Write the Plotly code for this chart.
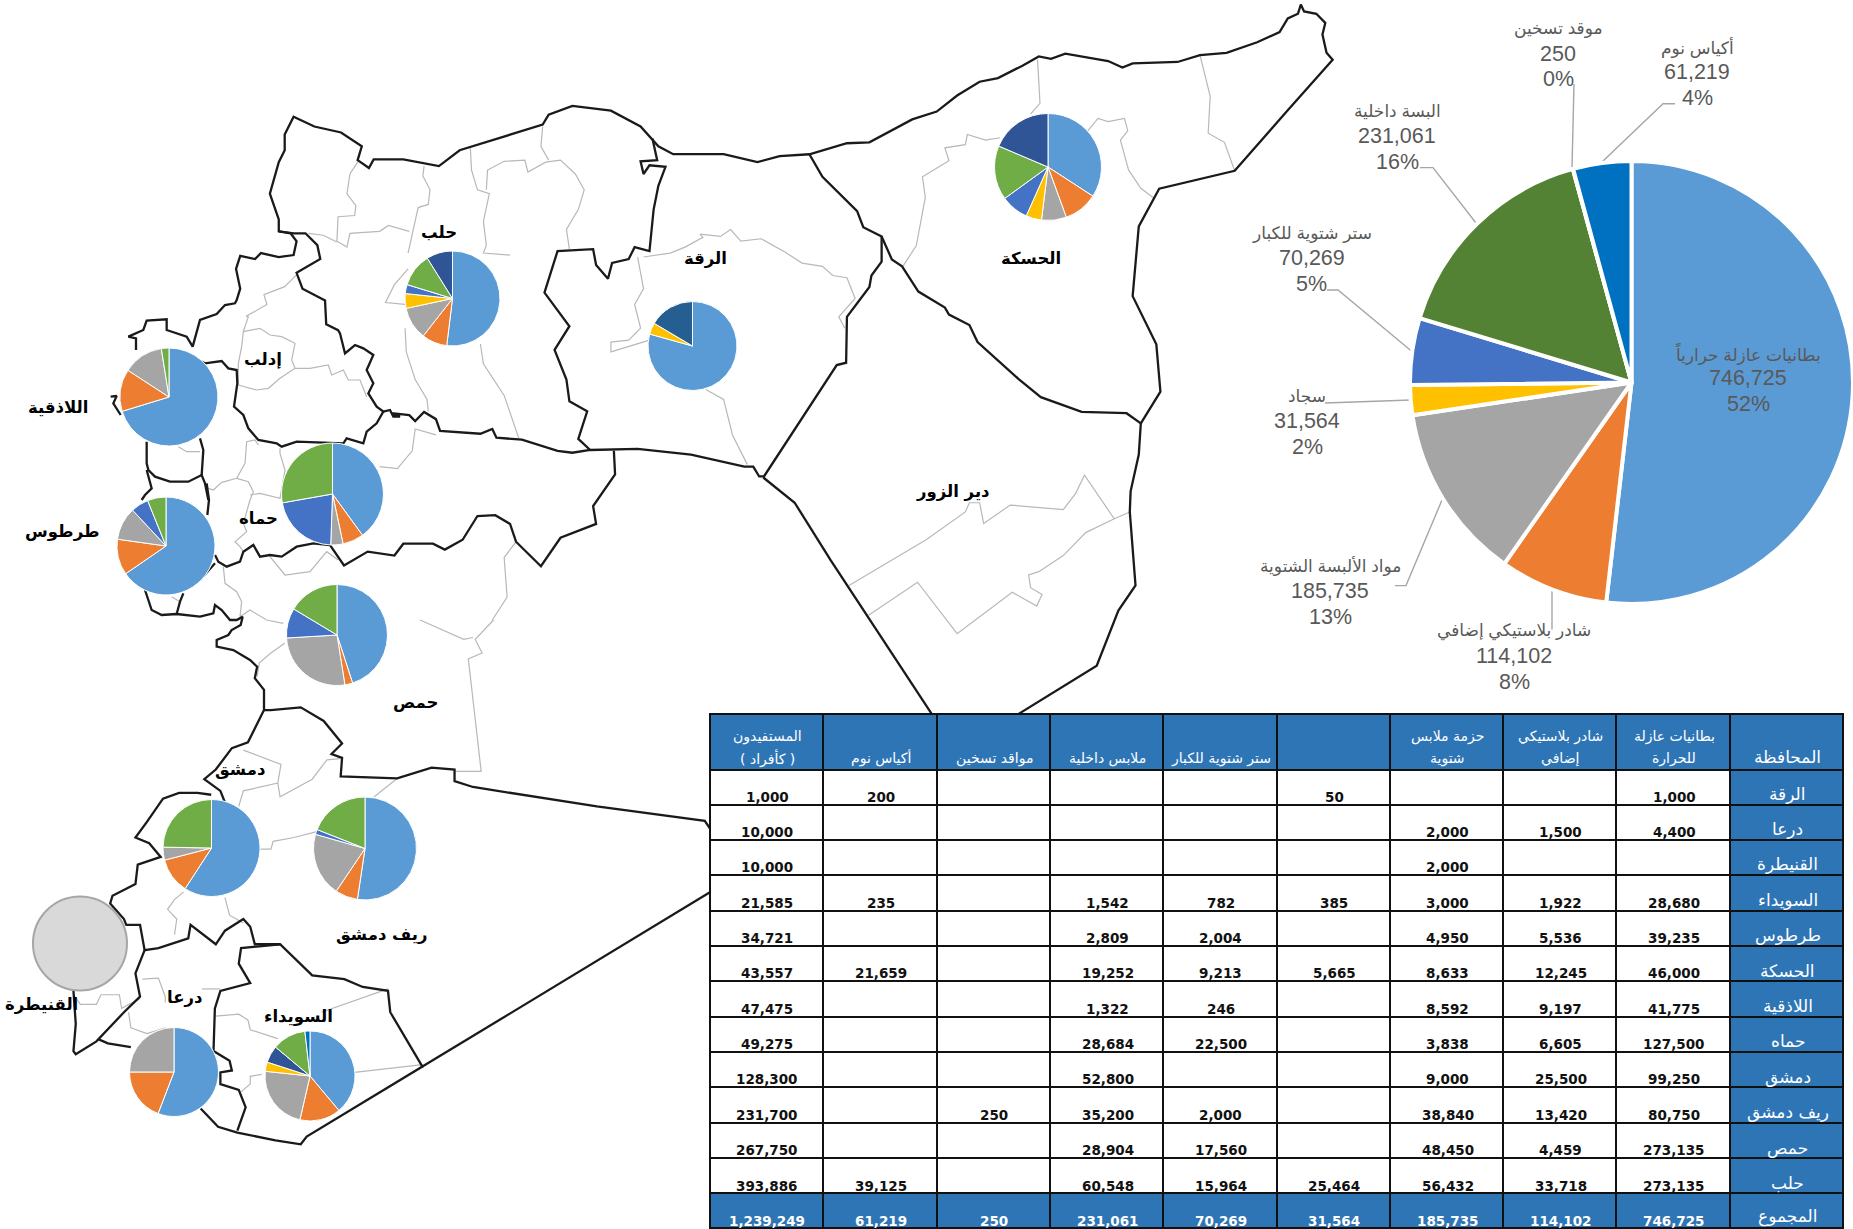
import plotly.graph_objects as go

W, H = 1853, 1229

# ---------- national totals ----------
item_names = ["بطانيات عازلة حرارياً", "شادر بلاستيكي إضافي", "مواد الألبسة الشتوية", "سجاد",
              "ستر شتوية للكبار", "البسة داخلية", "موقد تسخين", "أكياس نوم"]
item_totals = [746725, 114102, 185735, 31564, 70269, 231061, 250, 61219]
item_colors = ["#5B9BD5", "#ED7D31", "#A5A5A5", "#FFC000", "#4472C4", "#548235", "#264478", "#0070C0"]

# ---------- table ----------
provinces = ["الرقة", "درعا", "القنيطرة", "السويداء", "طرطوس", "الحسكة", "اللاذقية", "حماه", "دمشق",
             "ريف دمشق", "حمص", "حلب", "المجموع"]
col_blankets = ["1,000", "4,400", "", "28,680", "39,235", "46,000", "41,775", "127,500", "99,250", "80,750", "273,135", "273,135", "746,725"]
col_sheets = ["", "1,500", "", "1,922", "5,536", "12,245", "9,197", "6,605", "25,500", "13,420", "4,459", "33,718", "114,102"]
col_kits = ["", "2,000", "2,000", "3,000", "4,950", "8,633", "8,592", "3,838", "9,000", "38,840", "48,450", "56,432", "185,735"]
col_carpets = ["50", "", "", "385", "", "5,665", "", "", "", "", "", "25,464", "31,564"]
col_jackets = ["", "", "", "782", "2,004", "9,213", "246", "22,500", "", "2,000", "17,560", "15,964", "70,269"]
col_underwear = ["", "", "", "1,542", "2,809", "19,252", "1,322", "28,684", "52,800", "35,200", "28,904", "60,548", "231,061"]
col_heaters = ["", "", "", "", "", "", "", "", "", "250", "", "", "250"]
col_bags = ["200", "", "", "235", "", "21,659", "", "", "", "", "", "39,125", "61,219"]
col_people = ["1,000", "10,000", "10,000", "21,585", "34,721", "43,557", "47,475", "49,275", "128,300", "231,700", "267,750", "393,886", "1,239,249"]
table_head = [["المستفيدون", "( كأفراد )"], ["أكياس نوم"], ["مواقد تسخين"], ["ملابس داخلية"], ["ستر شتوية للكبار"], [],
              ["حزمة ملابس", "شتوية"], ["شادر بلاستيكي", "إضافي"], ["بطانيات عازلة", "للحرارة"], ["المحافظة"]]

# ---------- provincial pies: slice shares (degrees) ----------
pie_halab = [187, 31, 40, 18, 11, 41, 32]
pie_raqqa = [285.6, 15, 59.4]
pie_hasakah = [123, 37, 27, 17, 30, 59, 67]
pie_lattakia = [253, 50, 48, 9]
pie_hama = [144, 24, 14, 78, 100]
pie_tartus = [235.5, 42.5, 39, 21, 22]
pie_homs = [162, 9, 95.6, 34.4, 59]
pie_damascus = [213, 42.5, 15.5, 89]
pie_rif = [188.5, 25.5, 72, 5.6, 68.4]
pie_quneitra = [1]
pie_daraa = [201, 69, 90]
pie_sweida = [140, 53, 83, 12, 22, 43.5, 6.5]

BLUE, ORANGE, GRAY, YEL, MID, GREEN, DARK, DEEP = "#5B9BD5", "#ED7D31", "#A5A5A5", "#FFC000", "#4472C4", "#70AD47", "#2F5597", "#0070C0"
mini_pies = [
    (pie_halab, [BLUE, ORANGE, GRAY, YEL, MID, GREEN, DARK], 452.5, 298.5, 47.5),
    (pie_raqqa, [BLUE, YEL, "#255E91"], 692.5, 346, 44.5),
    (pie_hasakah, [BLUE, ORANGE, GRAY, YEL, MID, GREEN, DARK], 1048, 167, 53.5),
    (pie_lattakia, [BLUE, ORANGE, GRAY, GREEN], 169, 397, 49),
    (pie_hama, [BLUE, ORANGE, GRAY, MID, GREEN], 332.5, 494, 51),
    (pie_tartus, [BLUE, ORANGE, GRAY, MID, GREEN], 166, 546, 49),
    (pie_homs, [BLUE, ORANGE, GRAY, MID, GREEN], 337, 635, 50.5),
    (pie_damascus, [BLUE, ORANGE, GRAY, GREEN], 211.5, 848, 48.5),
    (pie_rif, [BLUE, ORANGE, GRAY, MID, GREEN], 365, 848.5, 51.5),
    (pie_daraa, [BLUE, ORANGE, GRAY], 174, 1072, 44.5),
    (pie_sweida, [BLUE, ORANGE, GRAY, YEL, DARK, GREEN, DEEP], 310, 1076, 45),
]

# ---------- map labels ----------
region_names = ["حلب", "الرقة", "الحسكة", "دير الزور", "إدلب", "اللاذقية", "طرطوس", "حماه", "حمص", "دمشق",
                "ريف دمشق", "القنيطرة", "درعا", "السويداء"]
region_x = [439, 705, 1030.6, 953, 263, 57.5, 62, 258, 415.5, 240, 381, 41, 184.6, 298.4]
region_y = [232, 259, 258, 492, 359, 407, 532, 518, 702, 769.5, 934.6, 1004.5, 997, 1017]

# ---------- outline tracings, in sets of map units ----------
def a(p): return [(x / 1.686, y / 2.529) for x, y in p]
def b(p): return [(x / 2.178, 620 + y / 2.575) for x, y in p]
def c(p): return [(700 + x / 2.45, y / 2.178) for x, y in p]
def d(p): return [(100 + x / 3, 420 + y / 3) for x, y in p]
def e(p): return [(100 + x / 3, 300 + y / 3) for x, y in p]

borders = [
    e([(32,290),(50,288),(40,310),(62,345)]),
    e([(108,150),(108,115),(85,110),(130,90),(140,62),(200,58),(200,90),(260,110),(278,140),(290,100),(300,60),(350,42),(375,15),(405,10),(410,0)])
    + a([(405,730),(398,680),(405,647),(430,655),(440,640),(470,650),(495,645),(500,610),(490,590),(470,585),(470,555),(455,490),(470,410),(480,380),(480,340),(495,295),(530,320),(575,335),(610,370),(603,405),(622,425),(630,403),(680,403),(740,420),(775,380),(835,352),(915,315),(925,290),(965,268),(1030,280),(1080,320),(1110,370),(1135,390),(1220,390),(1277,410)])
    + c([(195,340),(268,336),(360,312),(415,310),(520,260),(580,243),(630,208),(685,178),(730,170),(790,143),(830,123),(860,128),(895,117),(1000,133),(1035,147),(1060,138),(1170,135),(1225,120),(1290,115),(1365,92),(1420,70),(1440,40),(1465,30),(1472,10),(1480,25),(1510,30),(1532,50),(1525,75),(1535,115),(1550,130),(1440,240),(1310,372),(1125,411),(1075,493),(1060,645),(1118,750),(1128,853),(1080,922),(1075,990),(1055,1070),(1053,1115),(1067,1275),(1025,1330),(972,1450),(775,1558)]),
    c([(155,1040),(232,1095),(320,1220),(570,1558)]),
    a([(470,585),(495,590),(515,590),(535,620),(540,655),(500,690),(510,730),(548,760),(550,820),(570,835)])
    + e([(720,100),(735,160),(765,135),(790,145),(820,165),(800,210),(820,250),(805,280),(830,320),(850,335),(830,370),(800,395),(790,430),(740,415),(730,430),(665,428),(590,425),(545,440),(530,430),(475,420),(445,385),(430,345),(402,320),(412,250),(410,210),(385,205),(365,183),(315,190),(275,170)]),
    e([(850,335),(870,330),(880,350),(900,350)])
    + a([(660,1045),(690,1050),(700,1065),(715,1042),(735,1060),(742,1090),(810,1097),(830,1085),(837,1107),(880,1112),(940,1140),(965,1145),(995,1138),(1075,1135),(1165,1150),(1255,1180),(1270,1180),(1280,1205),(1287,1205)]),
    a([(995,1138),(975,1110),(990,1040),(960,1015),(955,960),(935,885),(960,825),(918,740),(940,635),(1000,630),(1005,670),(1025,705),(1032,665),(1060,655),(1070,625),(1095,635),(1102,530),(1110,470),(1122,422),(1095,418),(1085,440),(1080,408),(1108,405),(1100,350)]),
    c([(268,336),(300,385),(385,460),(400,495),(445,515),(445,570),(420,600),(415,625),(360,690),(358,790),(335,795),(155,1040)]),
    c([(445,515),(470,565),(495,580),(535,635),(600,670),(610,685),(660,708),(680,745),(780,825),(835,865),(935,897),(1045,900),(1080,922)]),
    a([(1035,1140),(1037,1200),(1000,1280),(1005,1325),(945,1360),(912,1432),(870,1370),(860,1325),(835,1303),(805,1305),(780,1365),(750,1390),(730,1375),(680,1375),(665,1405),(620,1395),(580,1430),(557,1378)])
    + d([(690,375),(640,370),(590,380),(545,410),(510,405),(480,410),(460,375),(430,395),(420,425),(380,440),(355,425),(345,405)]),
    d([(345,430),(300,480)]),
    e([(140,425),(140,490),(145,510),(165,530),(210,545),(265,545),(305,525),(315,550),(325,600)]),
    e([(300,415),(310,450),(305,525)]),
    d([(320,190),(327,240),(322,285)]),
    d([(140,150),(155,205),(135,225),(125,240)]),
    d([(135,510),(155,570),(185,585),(230,582),(300,590),(340,580),(345,555),(365,570),(390,600),(410,600),(428,590),(422,615),(395,630),(385,645),(350,660),(350,680),(400,690),(450,720)])
    + b([(560,120),(555,150),(575,180),(575,232),(540,315),(505,330),(470,385),(445,410),(480,440),(490,470)]),
    d([(230,582),(240,545),(250,520)]),
    b([(460,450),(430,445),(390,445),(355,460),(320,520),(295,560),(325,575),(350,610),(300,630),(295,680),(245,710),(240,730),(270,770),(275,785),(305,785),(315,850),(345,845),(410,820),(415,785),(470,835),(490,800),(530,770),(545,790),(555,835),(610,835),(680,915),(750,925),(790,945),(845,955),(850,1010),(920,1150),(668,1330),(655,1350),(600,1340),(517,1320),(475,1305),(437,1258)]),
    b([(920,1150),(1548,700)]),
    b([(1548,540),(1535,517),(1300,480),(1030,430),(990,415),(990,385),(940,380),(865,408),(742,403),(745,355),(722,345),(745,318),(705,260),(655,225),(590,232),(575,232)]),
    b([(610,835),(525,845),(520,885),(545,935),(480,955),(468,1000),(465,1110),(500,1135),(505,1160),(480,1165),(480,1195),(520,1210),(535,1255),(517,1315)]),
    b([(315,850),(295,910),(305,970),(270,1010),(210,1085),(165,1118),(160,1110),(165,1040),(160,955)]),
    b([(215,1080),(235,1090),(285,1100)]),
]

inner_lines = [
    a([(793,375),(795,430),(805,480),(825,490),(815,560),(820,620),(815,640),(860,645)]),
    a([(820,480),(822,430),(850,408),(885,405),(890,435),(920,410),(945,405),(970,440),(985,480),(975,530),(955,580),(960,630)]),
    a([(915,320),(912,370),(925,405)]),
    a([(715,420),(713,445),(725,480),(722,517),(705,525),(688,640)]),
    a([(605,405),(590,440),(585,490),(600,520),(598,545),(570,548),(568,610),(585,625),(590,590),(640,585),(655,570),(690,585)]),
    a([(520,590),(545,595),(568,612)]),
    a([(500,695),(480,725),(445,745),(450,770),(415,800)]) + e([(445,50),(430,95),(425,140),(415,190),(415,255)]),
    e([(430,95),(480,85),(510,105),(545,110),(585,130),(575,180),(585,205),(540,235),(505,265),(470,270),(415,255)]),
    e([(585,205),(630,205),(685,195),(695,225),(730,210),(745,240),(780,240),(800,290)]),
    a([(683,770),(650,765),(665,720),(688,680)]),
    a([(683,830),(685,890),(700,960),(720,1010),(722,1040)]),
    a([(810,870),(815,920),(850,1000),(875,1110)]),
    a([(1075,650),(1085,730),(1070,770),(1080,830),(1060,860),(1030,865),(1030,890),(1095,860)]),
    a([(1085,650),(1130,640),(1155,625),(1185,600)])
    + c([(0,510),(50,515),(75,500),(100,525),(150,520),(210,550),(250,573),(300,580),(325,600),(360,605),(380,650),(340,690),(355,715)]),
    a([(1190,985),(1220,1010),(1235,1100),(1260,1175)]),
    c([(827,130),(833,225),(810,248)]),
    c([(950,285),(975,258),(1000,265),(1040,258),(1048,285),(1030,305),(1050,370),(1080,410),(1110,430)]),
    c([(735,300),(700,305),(655,293),(650,315),(600,322),(610,350),(545,385),(552,430),(530,535),(497,580)]),
    c([(1225,120),(1250,210),(1245,290),(1285,310),(1310,372)]),
    c([(365,1275),(555,1175),(650,1115),(660,1095),(685,1095),(695,1140),(760,1100),(890,1110),(920,1075),(942,1035),(1015,1130),(1053,1115)]),
    c([(1015,1130),(945,1160),(890,1210),(830,1245),(805,1252),(810,1280),(838,1295),(825,1320),(765,1290),(630,1380),(533,1268),(413,1340)]),
    a([(735,1100),(700,1085),(695,1140),(670,1185),(640,1180)]),
    d([(235,80),(260,95),(300,95)]),
    d([(325,205),(340,210),(365,187),(410,175),(435,130),(440,65),(465,60),(475,75)]),
    d([(410,175),(445,185),(460,215),(450,240),(430,310),(440,335),(405,365),(420,380),(430,395)]),
    d([(450,225),(480,220),(540,235),(555,150),(540,100),(540,85)]),
    d([(370,440),(375,490),(410,515),(425,545),(420,590),(450,570),(500,600),(550,610)]),
    d([(510,410),(555,465),(630,455),(680,395),(715,420)]),
    d([(215,530),(240,545)]),
    a([(870,1370),(850,1410),(855,1510),(830,1568)]),
    b([(1075,0),(1035,50),(1050,85),(1020,100),(1048,390),(990,390)]),
    b([(915,0),(1010,50),(1030,45)]),
    b([(620,60),(590,85),(565,110),(560,145)]),
    b([(530,335),(612,372),(605,420),(530,440),(520,480)]),
    b([(605,420),(610,455),(680,410),(712,360),(740,357)]),
    b([(815,455),(865,408)]),
    b([(565,590),(590,590),(595,570),(640,560),(690,545)]),
    b([(400,700),(380,720),(365,745),(385,770),(380,810)]),
    b([(490,715),(500,760),(530,780)]),
    b([(160,965),(175,990),(210,990),(220,965),(260,965),(265,1000),(305,975)]),
    b([(310,925),(345,922),(360,970),(360,985)]),
    b([(280,1010),(285,1050),(320,1065),(360,1050)]),
    b([(440,950),(480,950)]),
    b([(470,1020),(520,1015),(540,1030),(545,1055),(605,1078)]),
    b([(700,1010),(845,950)]),
    b([(772,1165),(920,1145)]),
    b([(525,1215),(545,1195),(545,1175),(570,1170)]),
]

# ---------- big-pie label anchors and leaders ----------
big_label_x = [1748, 1514, 1330, 1307, 1311.5, 1397, 1558, 1697]
big_label_y = [353, 631, 566, 396, 233, 111, 28.5, 47]
leaders = [
    [(1552, 629.5), (1552, 590)],
    [(1395, 585.6), (1406, 585.6), (1442, 500)],
    [(1325, 403), (1411, 400)],
    [(1327, 290), (1338, 290), (1412, 351.5)],
    [(1420, 167.6), (1433, 167.6), (1476, 223)],
    [(1574, 84), (1572, 167.6)],
    [(1675, 103.7), (1663, 103.7), (1602, 162)],
]

fig = go.Figure()


def polyline(pts, color, width):
    fig.add_trace(go.Scatter(x=[p[0] for p in pts], y=[p[1] for p in pts], mode="lines",
                             line=dict(color=color, width=width), hoverinfo="skip", showlegend=False))


for seg in inner_lines:
    polyline(seg, "#B8B8B8", 1.2)
for seg in borders:
    polyline(seg, "#1A1A1A", 2.3)
for seg in leaders:
    polyline(seg, "#A6A6A6", 1.4)


def pie_domain(cx, cy, r):
    return dict(x=[max(0, (cx - r) / W), min(1, (cx + r) / W)], y=[max(0, 1 - (cy + r) / H), min(1, 1 - (cy - r) / H)])


fig.add_trace(go.Pie(values=item_totals, marker=dict(colors=item_colors, line=dict(color="white", width=4)),
                     sort=False, direction="clockwise", rotation=0, textinfo="none", hoverinfo="skip",
                     showlegend=False, domain=pie_domain(1631.5, 382.5, 221.5)))
for vals, cols, cx, cy, r in mini_pies:
    fig.add_trace(go.Pie(values=vals, marker=dict(colors=cols, line=dict(color="white", width=1)),
                         sort=False, direction="clockwise", rotation=0, textinfo="none", hoverinfo="skip",
                         showlegend=False, domain=pie_domain(cx, cy, r)))
fig.add_trace(go.Pie(values=pie_quneitra, marker=dict(colors=["#D9D9D9"], line=dict(color="#A6A6A6", width=2)),
                     sort=False, textinfo="none", hoverinfo="skip", showlegend=False,
                     domain=pie_domain(80, 943.5, 47)))

# Table grid and fills; its texts are placed with annotations below, low in each cell
n = len(provinces)
columns = [col_people, col_bags, col_heaters, col_underwear, col_jackets, col_carpets, col_kits, col_sheets, col_blankets, provinces]
HEAD = "#2E75B6"
T_LEFT, T_RIGHT, T_TOP = 710, 1843.5, 714
fills = [["white"] * (n - 1) + [HEAD] for _ in range(9)] + [[HEAD] * n]
fig.add_trace(go.Table(
    domain=dict(x=[T_LEFT / W, T_RIGHT / W], y=[0, 1 - T_TOP / H]),
    columnwidth=[1] * 10,
    header=dict(values=[""] * 10, height=55.5, fill_color=HEAD, line=dict(color="#111111", width=2)),
    cells=dict(values=[[""] * n for _ in columns], height=35.3, fill_color=fills,
               line=dict(color="#111111", width=2))))

ann = []
col_w = (T_RIGHT - T_LEFT) / 10
for j, (col, head) in enumerate(zip(columns, table_head)):
    cx = T_LEFT + col_w * (j + 0.5) + 0.8
    is_prov = j == 9
    if is_prov:
        ann.append(dict(x=cx, y=757, text=head[0], showarrow=False, xref="x", yref="y",
                        font=dict(family="DejaVu Sans", size=17, color="white")))
    else:
        for k, t in enumerate(head):
            ann.append(dict(x=cx, y=758 - (len(head) - 1 - k) * 22, text=t, showarrow=False, xref="x", yref="y",
                            font=dict(family="DejaVu Sans", size=14, color="white")))
    for i, v in enumerate(col):
        if not v:
            continue
        if is_prov:
            ann.append(dict(x=cx, y=793.5 + 35.4 * i - (2 if i == n - 1 else 0), text=v, showarrow=False, xref="x", yref="y",
                            font=dict(family="DejaVu Sans", size=17, color="white")))
        else:
            ann.append(dict(x=cx, y=796.5 + 35.37 * i, text="<b>%s</b>" % v, showarrow=False, xref="x", yref="y",
                            font=dict(family="DejaVu Sans", size=13.5, color="white" if i == n - 1 else "#111111")))

for name, x, y in zip(region_names, region_x, region_y):
    ann.append(dict(x=x, y=y, text="<b>%s</b>" % name, showarrow=False, xref="x", yref="y",
                    font=dict(family="DejaVu Sans", size=16.5, color="black")))
total = sum(item_totals)
for name, v, x, y in zip(item_names, item_totals, big_label_x, big_label_y):
    lines = [name, f"{v:,}", f"{round(v / total * 100)}%"]
    sizes = [17, 21.5, 21.5]
    for i, (t, s) in enumerate(zip(lines, sizes)):
        ann.append(dict(x=x, y=y + i * 25.4, text=t, showarrow=False, xref="x", yref="y",
                        font=dict(family="Liberation Sans, DejaVu Sans", size=s, color="#595959")))

fig.update_layout(width=W, height=H, margin=dict(l=0, r=0, t=0, b=0), autosize=False,
                  paper_bgcolor="white", plot_bgcolor="white", annotations=ann, showlegend=False,
                  xaxis=dict(range=[0, W], visible=False, fixedrange=True),
                  yaxis=dict(range=[H, 0], visible=False, fixedrange=True))
fig.write_html("out.html", config=dict(displayModeBar=False),
               post_script="document.body.style.margin='0';")
